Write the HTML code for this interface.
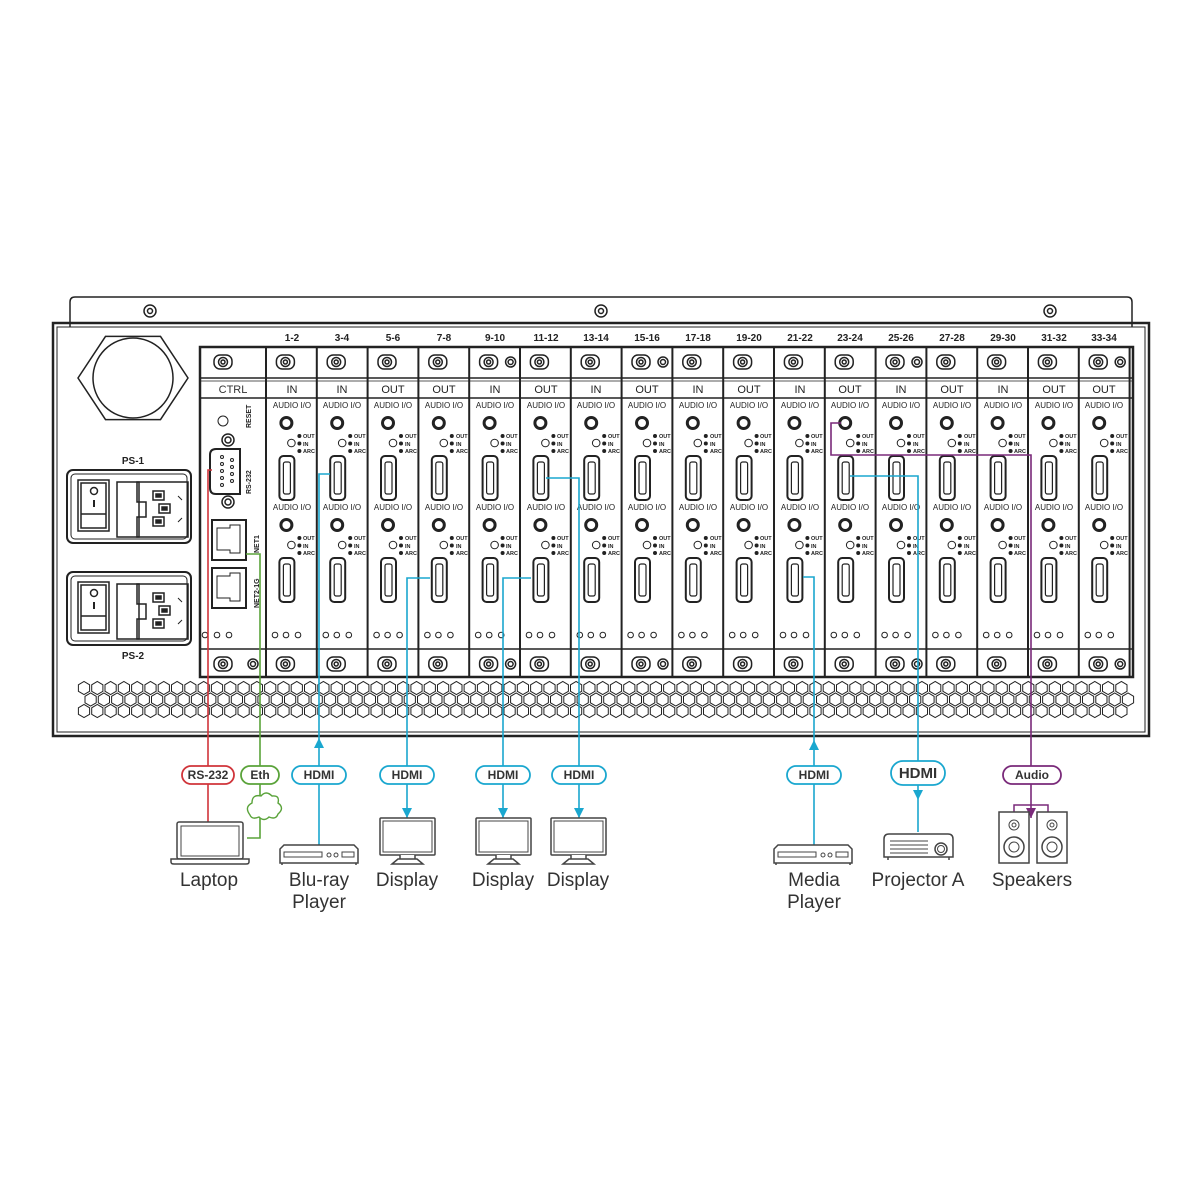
<!DOCTYPE html>
<html><head><meta charset="utf-8"><style>
html,body{margin:0;padding:0;background:#fff}
svg{display:block}
text{font-family:"Liberation Sans",sans-serif;fill:#222}
.h{font-size:10px;font-weight:bold;text-anchor:middle}
.lb{font-size:11px;text-anchor:middle;fill:#333}
.au{font-size:8px;text-anchor:middle;fill:#222}
.sm{font-size:5.5px;font-weight:bold}
.pill{font-size:12px;font-weight:bold;text-anchor:middle;fill:#333}
.dev{font-size:19px;text-anchor:middle;fill:#333}
</style></head><body>
<svg id="s" width="1200" height="1200" viewBox="0 0 1200 1200" xmlns="http://www.w3.org/2000/svg">
<g id="shapes" fill="none" stroke="#222" stroke-width="1.5"></g>
<g id="txt">
<text class="h" x="133" y="464">PS-1</text>
<text class="h" x="133" y="659">PS-2</text>
<text class="lb" x="233" y="393">CTRL</text>
<text class="sm" transform="translate(251,428) rotate(-90)" style="font-size:7px">RESET</text>
<text class="sm" transform="translate(251,494) rotate(-90)" style="font-size:7px">RS-232</text>
<text class="sm" transform="translate(259,553) rotate(-90)" style="font-size:7px">NET1</text>
<text class="sm" transform="translate(259,608) rotate(-90)" style="font-size:7px">NET2-1G</text>
<g class="h">
<text x="292" y="341">1-2</text><text x="342" y="341">3-4</text><text x="393" y="341">5-6</text><text x="444" y="341">7-8</text><text x="495" y="341">9-10</text><text x="546" y="341">11-12</text><text x="596" y="341">13-14</text><text x="647" y="341">15-16</text><text x="698" y="341">17-18</text><text x="749" y="341">19-20</text><text x="800" y="341">21-22</text><text x="850" y="341">23-24</text><text x="901" y="341">25-26</text><text x="952" y="341">27-28</text><text x="1003" y="341">29-30</text><text x="1054" y="341">31-32</text><text x="1104" y="341">33-34</text>
</g>
<g class="lb">
<text x="292" y="393">IN</text><text x="342" y="393">IN</text><text x="393" y="393">OUT</text><text x="444" y="393">OUT</text><text x="495" y="393">IN</text><text x="546" y="393">OUT</text><text x="596" y="393">IN</text><text x="647" y="393">OUT</text><text x="698" y="393">IN</text><text x="749" y="393">OUT</text><text x="800" y="393">IN</text><text x="850" y="393">OUT</text><text x="901" y="393">IN</text><text x="952" y="393">OUT</text><text x="1003" y="393">IN</text><text x="1054" y="393">OUT</text><text x="1104" y="393">OUT</text>
</g>
<g class="au">
<text x="292" y="408">AUDIO I/O</text><text x="342" y="408">AUDIO I/O</text><text x="393" y="408">AUDIO I/O</text><text x="444" y="408">AUDIO I/O</text><text x="495" y="408">AUDIO I/O</text><text x="546" y="408">AUDIO I/O</text><text x="596" y="408">AUDIO I/O</text><text x="647" y="408">AUDIO I/O</text><text x="698" y="408">AUDIO I/O</text><text x="749" y="408">AUDIO I/O</text><text x="800" y="408">AUDIO I/O</text><text x="850" y="408">AUDIO I/O</text><text x="901" y="408">AUDIO I/O</text><text x="952" y="408">AUDIO I/O</text><text x="1003" y="408">AUDIO I/O</text><text x="1054" y="408">AUDIO I/O</text><text x="1104" y="408">AUDIO I/O</text>
<text x="292" y="510">AUDIO I/O</text><text x="342" y="510">AUDIO I/O</text><text x="393" y="510">AUDIO I/O</text><text x="444" y="510">AUDIO I/O</text><text x="495" y="510">AUDIO I/O</text><text x="546" y="510">AUDIO I/O</text><text x="596" y="510">AUDIO I/O</text><text x="647" y="510">AUDIO I/O</text><text x="698" y="510">AUDIO I/O</text><text x="749" y="510">AUDIO I/O</text><text x="800" y="510">AUDIO I/O</text><text x="850" y="510">AUDIO I/O</text><text x="901" y="510">AUDIO I/O</text><text x="952" y="510">AUDIO I/O</text><text x="1003" y="510">AUDIO I/O</text><text x="1054" y="510">AUDIO I/O</text><text x="1104" y="510">AUDIO I/O</text>
</g>
<g class="sm">
<text y="438"><tspan x="303">OUT</tspan><tspan x="354">OUT</tspan><tspan x="405">OUT</tspan><tspan x="456">OUT</tspan><tspan x="506">OUT</tspan><tspan x="557">OUT</tspan><tspan x="608">OUT</tspan><tspan x="659">OUT</tspan><tspan x="710">OUT</tspan><tspan x="760">OUT</tspan><tspan x="811">OUT</tspan><tspan x="862">OUT</tspan><tspan x="913">OUT</tspan><tspan x="964">OUT</tspan><tspan x="1014">OUT</tspan><tspan x="1065">OUT</tspan><tspan x="1116">OUT</tspan></text>
<text y="446"><tspan x="303">IN</tspan><tspan x="354">IN</tspan><tspan x="405">IN</tspan><tspan x="456">IN</tspan><tspan x="506">IN</tspan><tspan x="557">IN</tspan><tspan x="608">IN</tspan><tspan x="659">IN</tspan><tspan x="710">IN</tspan><tspan x="760">IN</tspan><tspan x="811">IN</tspan><tspan x="862">IN</tspan><tspan x="913">IN</tspan><tspan x="964">IN</tspan><tspan x="1014">IN</tspan><tspan x="1065">IN</tspan><tspan x="1116">IN</tspan></text>
<text y="453"><tspan x="303">ARC</tspan><tspan x="354">ARC</tspan><tspan x="405">ARC</tspan><tspan x="456">ARC</tspan><tspan x="506">ARC</tspan><tspan x="557">ARC</tspan><tspan x="608">ARC</tspan><tspan x="659">ARC</tspan><tspan x="710">ARC</tspan><tspan x="760">ARC</tspan><tspan x="811">ARC</tspan><tspan x="862">ARC</tspan><tspan x="913">ARC</tspan><tspan x="964">ARC</tspan><tspan x="1014">ARC</tspan><tspan x="1065">ARC</tspan><tspan x="1116">ARC</tspan></text>
<text y="540"><tspan x="303">OUT</tspan><tspan x="354">OUT</tspan><tspan x="405">OUT</tspan><tspan x="456">OUT</tspan><tspan x="506">OUT</tspan><tspan x="557">OUT</tspan><tspan x="608">OUT</tspan><tspan x="659">OUT</tspan><tspan x="710">OUT</tspan><tspan x="760">OUT</tspan><tspan x="811">OUT</tspan><tspan x="862">OUT</tspan><tspan x="913">OUT</tspan><tspan x="964">OUT</tspan><tspan x="1014">OUT</tspan><tspan x="1065">OUT</tspan><tspan x="1116">OUT</tspan></text>
<text y="548"><tspan x="303">IN</tspan><tspan x="354">IN</tspan><tspan x="405">IN</tspan><tspan x="456">IN</tspan><tspan x="506">IN</tspan><tspan x="557">IN</tspan><tspan x="608">IN</tspan><tspan x="659">IN</tspan><tspan x="710">IN</tspan><tspan x="760">IN</tspan><tspan x="811">IN</tspan><tspan x="862">IN</tspan><tspan x="913">IN</tspan><tspan x="964">IN</tspan><tspan x="1014">IN</tspan><tspan x="1065">IN</tspan><tspan x="1116">IN</tspan></text>
<text y="555"><tspan x="303">ARC</tspan><tspan x="354">ARC</tspan><tspan x="405">ARC</tspan><tspan x="456">ARC</tspan><tspan x="506">ARC</tspan><tspan x="557">ARC</tspan><tspan x="608">ARC</tspan><tspan x="659">ARC</tspan><tspan x="710">ARC</tspan><tspan x="760">ARC</tspan><tspan x="811">ARC</tspan><tspan x="862">ARC</tspan><tspan x="913">ARC</tspan><tspan x="964">ARC</tspan><tspan x="1014">ARC</tspan><tspan x="1065">ARC</tspan><tspan x="1116">ARC</tspan></text>
</g>
</g>
<g id="cables" fill="none" stroke-width="1.6"></g>
<g id="devs" fill="#fff" stroke="#444" stroke-width="1.5"></g>
<g>
<text class="pill" x="208" y="779">RS-232</text>
<text class="pill" x="260" y="779">Eth</text>
<text class="pill" x="319" y="779">HDMI</text>
<text class="pill" x="407" y="779">HDMI</text>
<text class="pill" x="503" y="779">HDMI</text>
<text class="pill" x="579" y="779">HDMI</text>
<text class="pill" x="814" y="779">HDMI</text>
<text class="pill" x="918" y="778" style="font-size:15px">HDMI</text>
<text class="pill" x="1032" y="779">Audio</text>
<text class="dev" x="209" y="886">Laptop</text>
<text class="dev" x="319" y="886">Blu-ray</text><text class="dev" x="319" y="908">Player</text>
<text class="dev" x="407" y="886">Display</text>
<text class="dev" x="503" y="886">Display</text>
<text class="dev" x="578" y="886">Display</text>
<text class="dev" x="814" y="886">Media</text><text class="dev" x="814" y="908">Player</text>
<text class="dev" x="918" y="886">Projector A</text>
<text class="dev" x="1032" y="886">Speakers</text>
</g>
</svg>
<script>
var NS="http://www.w3.org/2000/svg";
function el(p,t,a){var e=document.createElementNS(NS,t);for(var k in a)e.setAttribute(k,a[k]);p.appendChild(e);return e;}
var S=document.getElementById('shapes');
// bracket & chassis
el(S,'path',{d:'M70 327 V302 Q70 297 75 297 H1127 Q1132 297 1132 302 V327',fill:'#fff'});
el(S,'rect',{x:53,y:323,width:1096,height:413,'stroke-width':2.5});
el(S,'rect',{x:57,y:327,width:1088,height:405,'stroke-width':1});
function screw(x,y){el(S,'circle',{cx:x,cy:y,r:6});el(S,'circle',{cx:x,cy:y,r:2.5});}
[150,601,1050].forEach(function(x){screw(x,311)});
// hex nut
var pts=[];for(var i=0;i<6;i++){var a=Math.PI/3*i;pts.push((133+55*Math.cos(a)).toFixed(1)+','+(378+48*Math.sin(a)).toFixed(1));}
el(S,'polygon',{points:pts.join(' ')});el(S,'circle',{cx:133,cy:378,r:40});
// PS modules
[470,572].forEach(function(y){
 el(S,'rect',{x:67,y:y,width:124,height:73,rx:6,'stroke-width':2});
 el(S,'rect',{x:71,y:y+4,width:116,height:65,rx:4,'stroke-width':1});
 el(S,'rect',{x:78,y:y+10,width:31,height:51});el(S,'rect',{x:81,y:y+13,width:25,height:45});
 el(S,'line',{x1:81,y1:y+44,x2:106,y2:y+44});el(S,'circle',{cx:94,cy:y+21,r:3.5});el(S,'line',{x1:94,y1:y+30,x2:94,y2:y+37,'stroke-width':2});
 el(S,'rect',{x:117,y:y+12,width:22,height:55});
 el(S,'path',{d:'M137 '+(y+12)+' H188 V'+(y+67)+' H137 V'+(y+47)+' H146 V'+(y+32)+' H137 Z'});
 [[153,y+21],[159,y+34],[153,y+47]].forEach(function(p){el(S,'rect',{x:p[0],y:p[1],width:11,height:9});el(S,'rect',{x:p[0]+3,y:p[1]+3,width:5,height:3,fill:'#222'});});
 el(S,'path',{d:'M178 '+(y+26)+' l4 4 M178 '+(y+52)+' l4 -4','stroke-width':1});
});
// card cage
el(S,'rect',{x:200,y:347,width:933,height:330,'stroke-width':2.5});
el(S,'line',{x1:200,y1:378,x2:1133,y2:378});el(S,'line',{x1:200,y1:381,x2:1133,y2:381,'stroke-width':0.8});
el(S,'line',{x1:200,y1:398,x2:1133,y2:398});
el(S,'line',{x1:200,y1:649,x2:1133,y2:649});
for(var i=0;i<=17;i++){var x=266+50.8*i;el(S,'line',{x1:x,y1:347,x2:x,y2:677,'stroke-width':2});}
function bigscrew(x,y){el(S,'rect',{x:x-9,y:y-7,width:18,height:14,rx:6});el(S,'circle',{cx:x,cy:y,r:4.5});el(S,'circle',{cx:x,cy:y,r:2});}
bigscrew(223,362);bigscrew(223,664);el(S,'circle',{cx:253,cy:664,r:5});el(S,'circle',{cx:253,cy:664,r:2.5});
[205,217,229].forEach(function(x){el(S,'circle',{cx:x,cy:635,r:2.8,'stroke-width':1});});
var extra=[4,7,12,16];
for(var i=0;i<17;i++){
 var L=266+50.8*i,c=L+25.4;
 bigscrew(c-6,362);bigscrew(c-6,664);
 if(extra.indexOf(i)>=0){el(S,'circle',{cx:c+16,cy:362,r:5});el(S,'circle',{cx:c+16,cy:362,r:2.5});el(S,'circle',{cx:c+16,cy:664,r:5});el(S,'circle',{cx:c+16,cy:664,r:2.5});}
 [0,102].forEach(function(o){
  el(S,'circle',{cx:c-5,cy:423+o,r:5.5,'stroke-width':3});
  el(S,'circle',{cx:c,cy:443+o,r:3.8,'stroke-width':1});
  [436,443.5,451].forEach(function(y){el(S,'circle',{cx:c+8,cy:y+o,r:2,fill:'#222',stroke:'none'});});
  el(S,'rect',{x:c-12,y:456+o,width:15,height:44,rx:4,'stroke-width':2});
  el(S,'rect',{x:c-8,y:462+o,width:7,height:32,rx:2,'stroke-width':1.2});
 });
 [L+9,L+20,L+32].forEach(function(x){el(S,'circle',{cx:x,cy:635,r:2.8,'stroke-width':1});});
}
// CTRL
el(S,'circle',{cx:223,cy:421,r:5,'stroke-width':1});
el(S,'circle',{cx:228,cy:440,r:6});el(S,'circle',{cx:228,cy:440,r:3});
el(S,'circle',{cx:228,cy:502,r:6});el(S,'circle',{cx:228,cy:502,r:3});
el(S,'path',{d:'M216 449 H240 V494 H216 Q210 494 210 488 V455 Q210 449 216 449 Z','stroke-width':2});
[454,461,468,475,482].forEach(function(y){el(S,'circle',{cx:222,cy:y+3,r:1.5,'stroke-width':1});});
[457,464,471,478].forEach(function(y){el(S,'circle',{cx:232,cy:y+3,r:1.5,'stroke-width':1});});
[520,568].forEach(function(y){el(S,'rect',{x:212,y:y,width:34,height:40,'stroke-width':2});
 el(S,'path',{d:'M217 '+(y+8)+' H230 V'+(y+5)+' H240 V'+(y+33)+' H230 V'+(y+30)+' H217 Z','stroke-width':1});});
// honeycomb
for(var r=0;r<3;r++){for(var j=0;j<80;j++){var x=84+j*13.3+(r%2?6.6:0),y=688+r*11.5;if(x>1128)break;
 var p=[];for(var k=0;k<6;k++){var a=Math.PI/3*k+Math.PI/6;p.push((x+6.5*Math.cos(a)).toFixed(1)+','+(y+6.5*Math.sin(a)).toFixed(1));}
 el(S,'polygon',{points:p.join(' '),'stroke-width':1});}}
// cables
var C=document.getElementById('cables');
var R='#d0343a',G='#5aa33a',B='#1aa7cf',P='#7a2a7a';
function pl(d,c){el(C,'path',{d:d,stroke:c});}
function arr(x,y,up,c){el(C,'path',{d:up?'M'+(x-5)+' '+(y+10)+' L'+x+' '+y+' L'+(x+5)+' '+(y+10)+'Z':'M'+(x-5)+' '+(y-10)+' L'+x+' '+y+' L'+(x+5)+' '+(y-10)+'Z',fill:c,stroke:'none'});}
function pill(x,w,c,h){h=h||18;el(C,'rect',{x:x-w/2,y:775-h/2-(h>18?2:0),width:w,height:h,rx:h/2,fill:'#fff',stroke:c,'stroke-width':1.8});}
pl('M212 470 H208 V822',R);
pl('M246 554 H260 V838 H247',G);
pl('M330 474 H319 V845',B);arr(319,738,1,B);
pl('M430 578 H407 V818',B);arr(407,818,0,B);
pl('M531 578 H503 V818',B);arr(503,818,0,B);
pl('M546 478 H579 V818',B);arr(579,818,0,B);
pl('M803 577 H814 V845',B);arr(814,740,1,B);
pl('M850 476 H918 V832',B);arr(918,800,0,B);
pl('M841 423 H831 V455 H1031 V818',P);arr(1031,818,0,P);
pill(208,52,R);pill(260,38,G);pill(319,54,B);pill(407,54,B);pill(503,54,B);pill(579,54,B);pill(814,54,B);pill(918,54,B,24);pill(1032,58,P);
// cloud
el(C,'path',{d:'M250 815 q-6 -8 2 -12 q0 -9 9 -7 q5 -6 11 0 q8 -1 6 7 q7 5 0 11 q-2 6 -9 3 q-5 5 -10 0 q-7 3 -9 -2 z',stroke:G,fill:'#fff','stroke-width':1.4});
// devices
var D=document.getElementById('devs');
el(D,'rect',{x:177,y:822,width:66,height:37,rx:2});el(D,'rect',{x:181,y:826,width:58,height:30,'stroke-width':1});
el(D,'path',{d:'M171 859 H249 V862 Q249 864 246 864 H174 Q171 864 171 862 Z'});
function player(x,y){el(D,'path',{d:'M'+(x+4)+' '+y+' H'+(x+74)+' L'+(x+78)+' '+(y+4)+' V'+(y+18)+' H'+x+' V'+(y+4)+' Z'});
 el(D,'rect',{x:x+4,y:y+7,width:38,height:5,'stroke-width':1});el(D,'circle',{cx:x+49,cy:y+10,r:2,'stroke-width':1});el(D,'circle',{cx:x+56,cy:y+10,r:2,'stroke-width':1});el(D,'rect',{x:x+62,y:y+7,width:12,height:5,'stroke-width':1});
 el(D,'path',{d:'M'+(x+2)+' '+(y+18)+' v2 M'+(x+76)+' '+(y+18)+' v2'});}
player(280,845);player(774,845);
function mon(x){el(D,'rect',{x:x,y:818,width:55,height:37,rx:1});el(D,'rect',{x:x+3,y:821,width:49,height:31,'stroke-width':1});
 el(D,'path',{d:'M'+(x+20)+' 855 v4 h15 v-4 M'+(x+12)+' 864 l6 -5 h19 l6 5 z'});}
mon(380);mon(476);mon(551);
el(D,'path',{d:'M889 834 H948 Q953 834 953 839 V857 H884 V839 Q884 834 889 834 Z'});
el(D,'circle',{cx:941,cy:849,r:6});el(D,'circle',{cx:941,cy:849,r:3.5,'stroke-width':1});
[841,845,849,853].forEach(function(y){el(D,'line',{x1:890,y1:y,x2:928,y2:y,'stroke-width':1});});
el(D,'path',{d:'M888 857 v3 M949 857 v3'});
el(C,'path',{d:'M1014 812 V805 H1048 V812',stroke:P,'stroke-width':1.5});
[999,1037].forEach(function(x){el(D,'rect',{x:x,y:812,width:30,height:51});el(D,'circle',{cx:x+15,cy:825,r:5,'stroke-width':1});el(D,'circle',{cx:x+15,cy:825,r:2,'stroke-width':1});el(D,'circle',{cx:x+15,cy:847,r:10});el(D,'circle',{cx:x+15,cy:847,r:5,'stroke-width':1});});
</script>
</body></html>
